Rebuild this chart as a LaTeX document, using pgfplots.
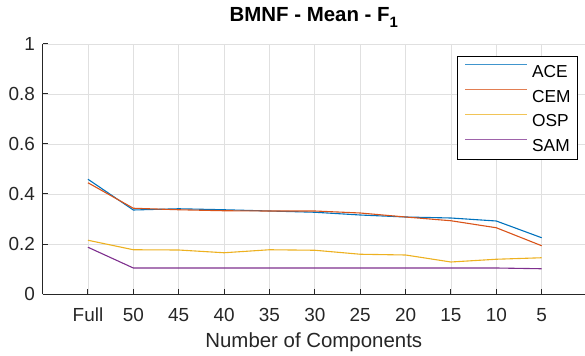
\documentclass[border=0pt]{standalone}
\usepackage{fontspec}
\setmainfont{Liberation Sans}
\usepackage{pgfplots}
\pgfplotsset{compat=1.18}
\definecolor{c1}{rgb}{0,0.447,0.741}
\definecolor{c2}{rgb}{0.85,0.325,0.098}
\definecolor{c3}{rgb}{0.929,0.694,0.125}
\definecolor{c4}{rgb}{0.494,0.184,0.556}
\definecolor{axisgray}{rgb}{0.15,0.15,0.15}
\definecolor{gridgray}{rgb}{0.88,0.88,0.88}
\begin{document}
\begin{tikzpicture}
\useasboundingbox (-42.6bp,-62bp) rectangle (542.4bp,294bp);
\begin{axis}[
  scale only axis, width=542.4bp, height=250bp,
  xmin=-1, xmax=10.955, ymin=0, ymax=1,
  xtick={0,1,2,3,4,5,6,7,8,9,10},
  xticklabels={Full,50,45,40,35,30,25,20,15,10,5},
  ytick={0,0.2,0.4,0.6,0.8,1},
  yticklabels={0,0.2,0.4,0.6,0.8,1},
  axis lines*=left,
  axis line style={axisgray, line width=1bp, -},
  tick align=inside, major tick length=5bp,
  tick style={axisgray, line width=1bp},
  grid=major, grid style={gridgray, line width=0.8bp},
  ticklabel style={font=\fontsize{19}{19}\selectfont, text=axisgray},
  xticklabel style={inner sep=0pt, anchor=north, text height=13.6bp, text depth=0pt, yshift=-13.3bp},
  yticklabel style={inner sep=0pt, anchor=east, text height=13.6bp, text depth=0pt, xshift=-7.5bp},
  xlabel={Number of Components},
  xlabel style={at={(axis description cs:0.5,0)}, anchor=base, yshift=-53.7bp, inner sep=0pt, font=\fontsize{20.5}{20.5}\selectfont, text=axisgray},
  title={\bfseries BMNF - Mean - F\raisebox{-6bp}{\fontsize{15}{15}\selectfont 1}},
  title style={at={(axis description cs:0.5,1)}, anchor=base, yshift=17bp, inner sep=0pt, font=\fontsize{20.5}{20.5}\selectfont},
  legend cell align=left,
  legend style={at={(0.98709,0.952)}, anchor=north east, draw=black, line width=0.7bp, fill=white,
    inner xsep=7bp, inner ysep=7.8bp, row sep=11.74bp, column sep=4.3bp,
    font=\fontsize{17.4}{17.4}\selectfont,
    nodes={inner sep=0pt, text height=12.46bp, text depth=0pt}},
  legend image code/.code={\draw[#1, line width=1.3bp, opacity=0.75] (0bp,6.2bp) -- (61.7bp,6.2bp);},
]
\addplot[color=c1, line width=1.1bp] coordinates {(0,0.459) (1,0.336) (2,0.341) (3,0.337) (4,0.332) (5,0.327) (6,0.316) (7,0.308) (8,0.304) (9,0.292) (10,0.225)};
\addlegendentry{ACE}
\addplot[color=c2, line width=1.1bp] coordinates {(0,0.445) (1,0.343) (2,0.337) (3,0.333) (4,0.332) (5,0.332) (6,0.324) (7,0.308) (8,0.293) (9,0.265) (10,0.193)};
\addlegendentry{CEM}
\addplot[color=c3, line width=1.1bp] coordinates {(0,0.215) (1,0.177) (2,0.176) (3,0.165) (4,0.177) (5,0.175) (6,0.159) (7,0.156) (8,0.128) (9,0.139) (10,0.145)};
\addlegendentry{OSP}
\addplot[color=c4, line width=1.1bp] coordinates {(0,0.187) (1,0.104) (2,0.104) (3,0.104) (4,0.104) (5,0.104) (6,0.104) (7,0.104) (8,0.104) (9,0.104) (10,0.101)};
\addlegendentry{SAM}
\end{axis}
\end{tikzpicture}
\end{document}
